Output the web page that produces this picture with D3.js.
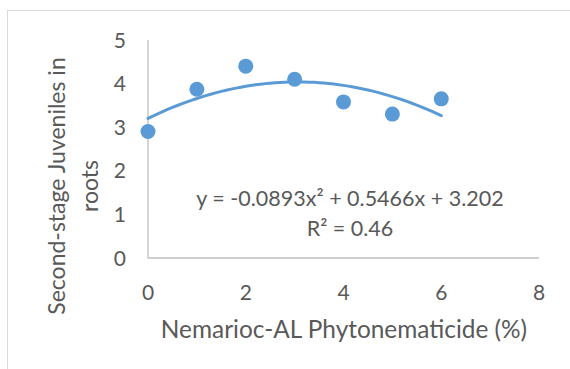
<!DOCTYPE html>
<html>
<head>
<meta charset="utf-8">
<script src="https://cdn.jsdelivr.net/npm/d3@7"></script>
<style>
  body { margin: 0; background: #fff; }
  text { font-family: Lato, "Open Sans", sans-serif; fill: #595959; }
</style>
</head>
<body>
<svg id="chart" width="570" height="369"></svg>
<script>
// data
var doses = [0, 1, 2, 3, 4, 5, 6];
var juveniles = [2.9, 3.87, 4.4, 4.1, 3.58, 3.3, 3.65];
var xTicks = [0, 2, 4, 6, 8];
var yTicks = [0, 1, 2, 3, 4, 5];
// trendline coefficients as printed on the chart
var trendCoef = [-0.0893, 0.5466, 3.202];
var trendLabel = ["y = -0.0893x² + 0.5466x + 3.202", "R² = 0.46"];

var svg = d3.select("#chart");

//chart border
svg.append("rect")
  .attr("x", 7.5).attr("y", 10.5)
  .attr("width", 600).attr("height", 400)
  .attr("fill", "none").attr("stroke", "#d9d9d9");

var x = d3.scaleLinear().domain([0, 8]).range([148, 539]);
var y = d3.scaleLinear().domain([0, 5]).range([258, 40]);

//axis lines
svg.append("line")
  .attr("x1", x(0)).attr("x2", x(0)).attr("y1", y(5)).attr("y2", y(0))
  .attr("stroke", "#bfbfbf").attr("stroke-width", 1.3);
svg.append("line")
  .attr("x1", x(0)).attr("x2", x(8)).attr("y1", y(0)).attr("y2", y(0))
  .attr("stroke", "#bfbfbf").attr("stroke-width", 1.3);

//tick labels
svg.selectAll(".ytick").data(yTicks).enter().append("text")
  .attr("class", "ytick")
  .attr("x", 126).attr("y", function(d){ return y(d) + 7.5; })
  .attr("text-anchor", "end")
  .style("font-size", "21px")
  .text(function(d){ return d; });

svg.selectAll(".xtick").data(xTicks).enter().append("text")
  .attr("class", "xtick")
  .attr("x", function(d){ return x(d); }).attr("y", 300)
  .attr("text-anchor", "middle")
  .style("font-size", "21px")
  .text(function(d){ return d; });

//axis titles
svg.append("text")
  .attr("x", 344).attr("y", 338)
  .attr("text-anchor", "middle")
  .style("font-size", "24.4px")
  .text("Nemarioc-AL Phytonematicide (%)");

var yTitle = svg.append("text")
  .attr("transform", "translate(0,186) rotate(-90)")
  .attr("text-anchor", "middle")
  .style("font-size", "23px");
yTitle.append("tspan").attr("x", 0).attr("y", 65).text("Second-stage Juveniles in");
yTitle.append("tspan").attr("x", 0).attr("y", 98).text("roots");

//trendline
var trend = d3.range(0, 6.001, 0.1).map(function(v){
  return [v, trendCoef[0]*v*v + trendCoef[1]*v + trendCoef[2]];
});
svg.append("path")
  .datum(trend)
  .attr("fill", "none")
  .attr("stroke", "#5b9bd5")
  .attr("stroke-width", 3)
  .attr("stroke-linecap", "round")
  .attr("d", d3.line().x(function(d){ return x(d[0]); }).y(function(d){ return y(d[1]); }));

//points
svg.selectAll(".dot").data(doses).enter().append("circle")
  .attr("class", "dot")
  .attr("cx", function(d){ return x(d); })
  .attr("cy", function(d, i){ return y(juveniles[i]); })
  .attr("r", 7.5)
  .attr("fill", "#5b9bd5");

//equation label
svg.selectAll(".eq").data(trendLabel).enter().append("text")
  .attr("class", "eq")
  .attr("x", 350).attr("y", function(d, i){ return 206 + i*30; })
  .attr("text-anchor", "middle")
  .style("font-size", "21.5px")
  .text(function(d){ return d; });
</script>
</body>
</html>
